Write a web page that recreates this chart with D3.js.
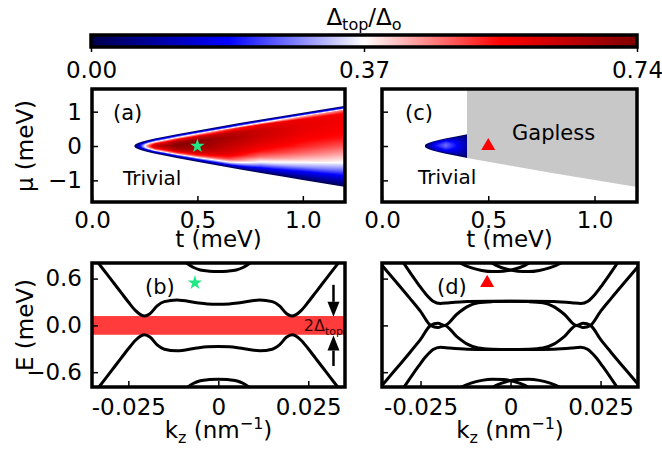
<!DOCTYPE html>
<meta charset="utf-8">
<head>
  <title>Topological gap and band structure</title>
  <script src="https://d3js.org/d3.v7.min.js"></script>
  <style>
    body { margin: 0; background: #fff; }
    svg text { font-family: "DejaVu Sans", sans-serif; fill: #000; }
    .tick line { stroke: #000; stroke-width: 1.5px; }
    .frame { fill: none; stroke: #000; stroke-width: 3.5px; }
    .band { fill: none; stroke: #000; stroke-width: 3px; }
  </style>
</head>
<body>
<svg id="fig" width="662" height="451"></svg>
<script>

// ---------- data ----------

// colour bar
var cbTicks = [0, 0.37, 0.74];

// edge of the topological wedge in (t, mu)
var edgeT  = [0.2, 0.205, 0.21, 0.22, 0.24, 0.27, 0.3, 0.35, 0.4, 0.5, 0.6, 0.7, 0.8, 0.9, 1.0, 1.1, 1.2];
var edgeUp = [0, 0.044, 0.064, 0.092, 0.133, 0.18, 0.222, 0.28, 0.34, 0.45, 0.56, 0.67, 0.77, 0.87, 0.97, 1.07, 1.17];
var edgeLo = [0, -0.045, -0.065, -0.093, -0.135, -0.183, -0.225, -0.285, -0.347, -0.46, -0.57, -0.68, -0.785, -0.885, -0.99, -1.09, -1.19];

// gap profiles across the wedge, s = 0 at lower edge, 1 at upper edge
var profS = [0, 0.02, 0.05, 0.1, 0.15, 0.2, 0.3, 0.4, 0.5, 0.6, 0.7, 0.8, 0.9, 0.95, 0.975, 1];

// panel (a)
var profTa = [0.2, 0.23, 0.26, 0.3, 0.4, 0.5, 0.65, 0.8, 1.0, 1.2];
var gapA = [
  [0, 0, 0, 0, 0, 0, 0, 0, 0, 0, 0, 0, 0, 0, 0, 0],
  [0, .01, .02, .04, .07, .1, .15, .19, .2, .19, .17, .1, .05, .02, .01, 0],
  [0, .01, .03, .08, .14, .2, .33, .42, .45, .42, .35, .22, .1, .05, .02, 0],
  [0, .02, .06, .12, .22, .36, .5, .6, .64, .6, .5, .35, .15, .1, .06, 0],
  [0, .03, .08, .2, .36, .48, .62, .69, .72, .72, .66, .52, .27, .12, .06, 0],
  [0, .04, .1, .27, .41, .52, .63, .68, .71, .72, .72, .62, .38, .16, .08, 0],
  [0, .05, .13, .3, .42, .5, .58, .62, .64, .66, .68, .66, .5, .21, .1, 0],
  [0, .04, .1, .19, .28, .36, .47, .54, .58, .61, .63, .63, .58, .32, .13, 0],
  [0, .03, .08, .15, .22, .3, .41, .48, .53, .56, .58, .59, .58, .41, .17, 0],
  [0, .03, .07, .13, .2, .26, .37, .43, .49, .54, .56, .57, .57, .47, .2, 0]
];

// panel (c): gapped only below t = 0.4
var profTc = [0.2, 0.25, 0.3, 0.35, 0.4];
var gapC = [
  [0, 0, 0, 0, 0, 0, 0, 0, 0, 0, 0, 0, 0, 0, 0, 0],
  [0, .02, .05, .09, .12, .14, .16, .18, .19, .19, .18, .16, .12, .08, .04, 0],
  [0, .02, .06, .11, .15, .18, .21, .24, .26, .26, .24, .2, .14, .09, .05, 0],
  [0, .02, .05, .09, .11, .13, .16, .18, .19, .19, .17, .14, .1, .06, .03, 0],
  [0, .01, .03, .05, .06, .07, .08, .09, .09, .09, .08, .07, .05, .03, .02, 0]
];
var gaplessFrom = 0.4;

// marker position in (t, mu)
var markT = 0.5, markMu = 0;

// panel (b) bands
var kzB = [-0.036, -0.033, -0.031, -0.029, -0.027, -0.025, -0.023, -0.0215, -0.0205, -0.019, -0.017, -0.015, -0.0115, -0.006, -0.003, 0,
           0.003, 0.006, 0.0115, 0.015, 0.017, 0.019, 0.0205, 0.0215, 0.023, 0.025, 0.027, 0.029, 0.031, 0.033, 0.036];
var bandBup = [0.96, 0.78, 0.66, 0.54, 0.42, 0.30, 0.19, 0.135, 0.12, 0.15, 0.25, 0.305, 0.325, 0.29, 0.275, 0.27,
               0.275, 0.29, 0.325, 0.305, 0.25, 0.15, 0.12, 0.135, 0.19, 0.30, 0.42, 0.54, 0.66, 0.78, 0.96];
var bandBdn = [-0.96, -0.78, -0.66, -0.54, -0.42, -0.30, -0.19, -0.135, -0.12, -0.15, -0.25, -0.305, -0.325, -0.29, -0.275, -0.27,
               -0.275, -0.29, -0.325, -0.305, -0.25, -0.15, -0.12, -0.135, -0.19, -0.30, -0.42, -0.54, -0.66, -0.78, -0.96];
var kzArcB = [-0.0115, -0.0088, -0.007, -0.005, -0.0025, 0, 0.0025, 0.005, 0.007, 0.0088, 0.0115];
var arcBup = [0.9, 0.80, 0.745, 0.71, 0.695, 0.69, 0.695, 0.71, 0.745, 0.80, 0.9];
var arcBdn = [-0.9, -0.80, -0.745, -0.71, -0.695, -0.69, -0.695, -0.71, -0.745, -0.80, -0.9];
var deltaTop = 0.12;
var arrowKz = 0.032, arrowDown = [0.52, 0.11], arrowUp = [-0.52, -0.13];

// panel (d) bands
var kzD1 = [-0.031, -0.0297, -0.0275, -0.0255, -0.0235, -0.0215, -0.0195, -0.017, -0.012, -0.006, 0,
            0.006, 0.012, 0.017, 0.0195, 0.0215, 0.0235, 0.0255, 0.0275, 0.0297, 0.031];
var bandD1 = [0.89, 0.80, 0.65, 0.52, 0.40, 0.31, 0.28, 0.29, 0.305, 0.31, 0.31,
              0.31, 0.305, 0.29, 0.28, 0.31, 0.40, 0.52, 0.65, 0.80, 0.89];
var bandD4 = [-0.89, -0.80, -0.65, -0.52, -0.40, -0.31, -0.28, -0.29, -0.305, -0.31, -0.31,
              -0.31, -0.305, -0.29, -0.28, -0.31, -0.40, -0.52, -0.65, -0.80, -0.89];
var kzD2 = [-0.0357, -0.032, -0.028, -0.025, -0.0222, -0.0202, -0.0183, -0.015, -0.012, -0.009, -0.005, 0,
            0.005, 0.009, 0.012, 0.015, 0.0183, 0.0202, 0.0222, 0.025, 0.028, 0.032, 0.0357];
var bandD2 = [0.77, 0.57, 0.35, 0.18, 0.0, -0.028, 0.0, -0.14, -0.24, -0.29, -0.305, -0.31,
              -0.305, -0.29, -0.24, -0.14, 0.0, -0.028, 0.0, 0.18, 0.35, 0.57, 0.77];
var bandD3 = [-0.77, -0.57, -0.35, -0.18, 0.0, 0.028, 0.0, 0.14, 0.24, 0.29, 0.305, 0.31,
              0.305, 0.29, 0.24, 0.14, 0.0, 0.028, 0.0, -0.18, -0.35, -0.57, -0.77];
var kzArcD1 = [-0.0165, -0.014, -0.011, -0.008, -0.005, -0.002, 0.001, 0.004, 0.0065];
var arcD1 = [0.88, 0.80, 0.74, 0.705, 0.69, 0.695, 0.72, 0.77, 0.84];
var kzArcD2 = [-0.0065, -0.004, -0.001, 0.002, 0.005, 0.008, 0.011, 0.014, 0.0165];
var arcD2 = [0.84, 0.77, 0.72, 0.695, 0.69, 0.705, 0.74, 0.80, 0.88];

// marker position in (kz, E)
var markKz = -0.0065, markE = 0.545;

var tTicks = [0, 0.5, 1.0];
var muTicks = [-1, 0, 1];
var eTicks = [-0.6, 0, 0.6];
var kzTicks = [-0.025, 0, 0.025];
var kzTickLabels = ["-0.025", "0", "0.025"];

// ---------- drawing ----------

var svg = d3.select("#fig");

var seismic = d3.scaleLinear()
    .domain([0, 0.185, 0.37, 0.555, 0.74])
    .range(["#00004d", "#0000ff", "#ffffff", "#ff0000", "#800000"])
    .clamp(true);

function panel(box, xdom, ydom, id) {
  var p = {
    box: box,
    x: d3.scaleLinear().domain(xdom).range([box.x0, box.x1]),
    y: d3.scaleLinear().domain(ydom).range([box.y1, box.y0])
  };
  svg.append("clipPath").attr("id", id)
    .append("rect").attr("x", box.x0).attr("y", box.y0)
    .attr("width", box.x1 - box.x0).attr("height", box.y1 - box.y0);
  p.g = svg.append("g").attr("clip-path", "url(#" + id + ")");
  return p;
}

var pA = panel({x0: 92, x1: 345, y0: 89, y1: 202}, [0, 1.2], [-1.63, 1.66], "clipA");
var pC = panel({x0: 382, x1: 637, y0: 89, y1: 202}, [0, 1.2], [-1.63, 1.66], "clipC");
var pB = panel({x0: 92, x1: 345, y0: 263, y1: 387}, [-0.0351, 0.0352], [-0.79, 0.80], "clipB");
var pD = panel({x0: 382, x1: 638, y0: 263, y1: 387}, [-0.0357, 0.0354], [-0.79, 0.80], "clipD");

function interp(xs, ys, v) {
  var i = Math.max(1, Math.min(xs.length - 1, d3.bisectRight(xs, v)));
  var a = Math.max(0, Math.min(1, (v - xs[i - 1]) / (xs[i] - xs[i - 1])));
  return ys[i - 1] + a * (ys[i] - ys[i - 1]);
}

// paint the gap map pixel by pixel into a canvas, then drop it into the svg
function drawField(p, cols, table, tMax) {
  var b = p.box, w = b.x1 - b.x0, h = b.y1 - b.y0;
  var cv = document.createElement("canvas");
  cv.width = w; cv.height = h;
  var ctx = cv.getContext("2d"), img = ctx.createImageData(w, h);
  var pxPerMu = Math.abs(p.y(0) - p.y(1));
  for (var px = 0; px < w; px++) {
    var t = p.x.invert(b.x0 + px + 0.5);
    if (t < edgeT[0] || t > tMax) continue;
    var up = interp(edgeT, edgeUp, t), lo = interp(edgeT, edgeLo, t);
    for (var py = 0; py < h; py++) {
      var mu = p.y.invert(b.y0 + py + 0.5);
      var cov = Math.min(1, (up - mu) * pxPerMu + 0.5, (mu - lo) * pxPerMu + 0.5);
      if (cov <= 0) continue;
      var s = Math.max(0, Math.min(1, (mu - lo) / Math.max(up - lo, 1e-6)));
      var colv = table.map(function(row) { return interp(profS, row, s); });
      var v = interp(cols, colv, t);
      var c = d3.rgb(seismic(v));
      var k = 4 * (py * w + px);
      img.data[k] = c.r; img.data[k + 1] = c.g; img.data[k + 2] = c.b;
      img.data[k + 3] = Math.round(255 * cov);
    }
  }
  ctx.putImageData(img, 0, 0);
  p.g.append("image")
      .attr("x", b.x0).attr("y", b.y0).attr("width", w).attr("height", h)
      .attr("href", cv.toDataURL());
}

drawField(pA, profTa, gapA, 1.2);
drawField(pC, profTc, gapC, gaplessFrom);

// gapless region of (c): above the lower wedge edge for t >= 0.4
var grayPts = [[gaplessFrom, 1.66], [1.2, 1.66]];
for (var i = edgeT.length - 1; i >= 0; i--) {
  if (edgeT[i] >= gaplessFrom) grayPts.push([edgeT[i], edgeLo[i]]);
}
grayPts.push([gaplessFrom, interp(edgeT, edgeLo, gaplessFrom)]);
pC.g.append("path")
    .attr("d", "M" + grayPts.map(function(d) { return pC.x(d[0]) + "," + pC.y(d[1]); }).join("L") + "Z")
    .attr("fill", "#c8c8c8");

// red band of width 2 Delta_top in (b)
pB.g.append("rect")
    .attr("x", pB.box.x0).attr("width", pB.box.x1 - pB.box.x0)
    .attr("y", pB.y(deltaTop)).attr("height", pB.y(-deltaTop) - pB.y(deltaTop))
    .attr("fill", "#ff3b3b");

function band(p, kz, e) {
  var line = d3.line()
      .x(function(d) { return p.x(d[0]); })
      .y(function(d) { return p.y(d[1]); })
      .curve(d3.curveMonotoneX);
  p.g.append("path").attr("class", "band").attr("d", line(d3.zip(kz, e)));
}

band(pB, kzB, bandBup);
band(pB, kzB, bandBdn);
band(pB, kzArcB, arcBup);
band(pB, kzArcB, arcBdn);

band(pD, kzD1, bandD1);
band(pD, kzD1, bandD4);
band(pD, kzD2, bandD2);
band(pD, kzD2, bandD3);
band(pD, kzArcD1, arcD1);
band(pD, kzArcD2, arcD2);
band(pD, kzArcD1, arcD1.map(function(v) { return -v; }));
band(pD, kzArcD2, arcD2.map(function(v) { return -v; }));

// arrows in (b)
function arrow(p, kz, e0, e1) {
  var xp = p.x(kz), ya = p.y(e0), yb = p.y(e1);
  var dir = yb > ya ? 1 : -1, hl = 15, hw = 6;
  svg.append("line").attr("x1", xp).attr("x2", xp)
      .attr("y1", ya).attr("y2", yb - dir * hl)
      .attr("stroke", "#000").attr("stroke-width", 2.5);
  svg.append("path")
      .attr("d", "M" + (xp - hw) + "," + (yb - dir * hl) + "L" + (xp + hw) + "," + (yb - dir * hl) + "L" + xp + "," + yb + "Z")
      .attr("fill", "#000");
}
arrow(pB, arrowKz, arrowDown[0], arrowDown[1]);
arrow(pB, arrowKz, arrowUp[0], arrowUp[1]);

var gt = svg.append("text").attr("x", pB.box.x1 - 2).attr("y", pB.y(0) + 6)
    .attr("text-anchor", "end").attr("font-size", 16).style("fill", "#330000");
gt.append("tspan").text("2Δ");
gt.append("tspan").attr("font-size", 11).attr("dy", 4).text("top");

// markers
var star = d3.symbol().type(d3.symbolStar).size(65);
var tri = d3.symbol().type(d3.symbolTriangle).size(85);
svg.append("path").attr("d", star())
    .attr("transform", "translate(" + pA.x(markT) + "," + pA.y(markMu) + ")").attr("fill", "#20e884");
svg.append("path").attr("d", star())
    .attr("transform", "translate(" + pB.x(markKz) + "," + pB.y(markE) + ")").attr("fill", "#20e884");
svg.append("path").attr("d", tri())
    .attr("transform", "translate(" + pC.x(markT) + "," + pC.y(markMu) + ")").attr("fill", "#ff0000");
svg.append("path").attr("d", tri())
    .attr("transform", "translate(" + pD.x(markKz) + "," + pD.y(markE) + ")").attr("fill", "#ff0000");

// axes: ticks point inwards
function ticks(p, xv, xf, yv, yf, pad) {
  var gx = svg.append("g").attr("transform", "translate(0," + p.box.y1 + ")")
      .call(d3.axisBottom(p.x).tickValues(xv).tickFormat(xf)
        .tickSizeInner(-6).tickSizeOuter(0).tickPadding(pad));
  var gy = svg.append("g").attr("transform", "translate(" + p.box.x0 + ",0)")
      .call(d3.axisLeft(p.y).tickValues(yv).tickFormat(yf)
        .tickSizeInner(-6).tickSizeOuter(0).tickPadding(10));
  [gx, gy].forEach(function(g) {
    g.select(".domain").remove();
    g.attr("font-size", 23).attr("font-family", null);
  });
}
var f1 = d3.format(".1f");
var none = function() { return ""; };
var kzFmt = function(d, i) { return kzTickLabels[i]; };
ticks(pA, tTicks, f1, muTicks, d3.format("d"), 10);
ticks(pC, tTicks, f1, muTicks, none, 10);
ticks(pB, kzTicks, kzFmt, eTicks, f1, 12);
ticks(pD, kzTicks, kzFmt, eTicks, none, 12);

[pA, pB, pC, pD].forEach(function(p) {
  svg.append("rect").attr("class", "frame")
      .attr("x", p.box.x0).attr("y", p.box.y0)
      .attr("width", p.box.x1 - p.box.x0).attr("height", p.box.y1 - p.box.y0);
});

// panel texts
function label(x, y, txt, size) {
  svg.append("text").attr("x", x).attr("y", y).attr("font-size", size).text(txt);
}
label(113, 120, "(a)", 21);
label(405, 120, "(c)", 21);
label(145, 294, "(b)", 21);
label(437, 294, "(d)", 21);
label(123, 185, "Trivial", 20);
label(418, 184, "Trivial", 20);
label(512, 140, "Gapless", 21);

// axis labels
[pA, pC].forEach(function(p) {
  svg.append("text").attr("x", (p.box.x0 + p.box.x1) / 2).attr("y", 247)
      .attr("text-anchor", "middle").attr("font-size", 23).text("t (meV)");
});

[pB, pD].forEach(function(p) {
  var k = svg.append("text").attr("x", (p.box.x0 + p.box.x1) / 2).attr("y", 438)
      .attr("text-anchor", "middle").attr("font-size", 23);
  k.append("tspan").text("k");
  k.append("tspan").attr("font-size", 16).attr("dy", 5).text("z");
  k.append("tspan").attr("dy", -5).text(" (nm");
  k.append("tspan").attr("font-size", 16).attr("dy", -9).text("−1");
  k.append("tspan").attr("dy", 9).text(")");
});

svg.append("text").attr("transform", "translate(33,146) rotate(-90)")
    .attr("text-anchor", "middle").attr("font-size", 23).text("μ (meV)");
svg.append("text").attr("transform", "translate(33,325) rotate(-90)")
    .attr("text-anchor", "middle").attr("font-size", 23).text("E (meV)");

// colour bar
var cb = {x0: 91, x1: 637, y0: 35, y1: 47};
var cbx = d3.scaleLinear().domain([cbTicks[0], cbTicks[2]]).range([cb.x0, cb.x1]);
var grad = svg.append("defs").append("linearGradient").attr("id", "cbGrad");
seismic.domain().forEach(function(v) {
  grad.append("stop").attr("offset", (v / cbTicks[2] * 100) + "%").attr("stop-color", seismic(v));
});
svg.append("rect").attr("x", cb.x0).attr("y", cb.y0)
    .attr("width", cb.x1 - cb.x0).attr("height", cb.y1 - cb.y0)
    .attr("fill", "url(#cbGrad)").attr("stroke", "#000").attr("stroke-width", 3.5);
var gcb = svg.append("g").attr("transform", "translate(0," + cb.y1 + ")")
    .call(d3.axisBottom(cbx).tickValues(cbTicks).tickFormat(d3.format(".2f"))
      .tickSizeInner(5).tickSizeOuter(0).tickPadding(10));
gcb.select(".domain").remove();
gcb.attr("font-size", 23).attr("font-family", null);

var ttl = svg.append("text").attr("x", (cb.x0 + cb.x1) / 2).attr("y", 25)
    .attr("text-anchor", "middle").attr("font-size", 23);
ttl.append("tspan").text("Δ");
ttl.append("tspan").attr("font-size", 16).attr("dy", 5).text("top");
ttl.append("tspan").attr("dy", -5).text("/Δ");
ttl.append("tspan").attr("font-size", 16).attr("dy", 5).text("o");

</script>
</body>
